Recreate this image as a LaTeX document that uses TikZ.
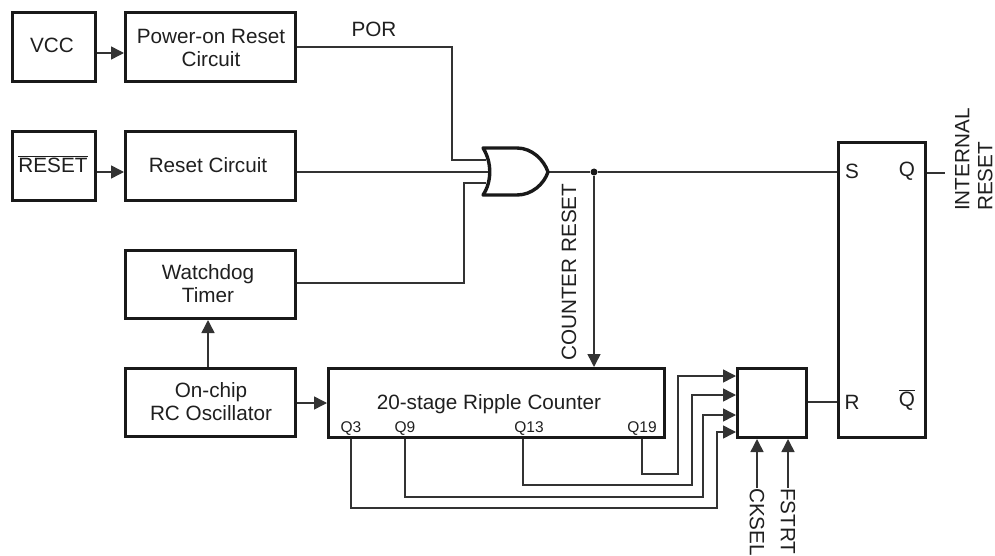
\documentclass[tikz,border=0pt]{standalone}
\usepackage{fontspec}
\setmainfont{Liberation Sans}
\usetikzlibrary{arrows.meta,calc}
\tikzset{
  x=1pt,y=-1pt,
  txt/.style={font=\fontsize{20.7}{23}\selectfont,text=black!88,inner sep=0pt,align=center},
  small/.style={font=\fontsize{15.5}{18}\selectfont,text=black!88,inner sep=0pt},
  box/.style={draw=black!90,line width=3.4pt,inner sep=0pt},
  wire/.style={draw=black!80,line width=1.5pt},
  arr/.style={wire,-{Triangle[length=13pt,width=13pt]}},
  dotn/.style={circle,fill=black!90,inner sep=0pt,minimum size=7pt},
}
\newcommand{\boxat}[5]{\node[box,minimum width=#3 pt-3.4pt,minimum height=#4 pt-3.4pt] (#5) at (#1+#3/2,#2+#4/2) {};}
\begin{document}
\begin{tikzpicture}
\useasboundingbox (0,0) rectangle (995,556);
\boxat{11}{11}{86}{72}{vcc}
\boxat{124}{11}{173}{72}{por}
\boxat{11}{130}{86}{72}{rst}
\boxat{124}{130}{173}{72}{rc}
\boxat{124}{249}{173}{71}{wd}
\boxat{124}{367}{173}{71}{osc}
\boxat{327}{367}{339}{72}{ctr}
\boxat{736}{367}{72}{72}{sel}
\boxat{837}{141}{90}{298}{sr}
% box labels
\node[txt] (vccl) at (52,45) {VCC};
\node[txt] (porc) at (211,48) {Power-on Reset\\Circuit};
\node[txt] (rstl) at (53,164) {$\overline{\mbox{RESET}}$};
\node[txt] (rcl) at (208,165) {Reset Circuit};
\node[txt] (wdl) at (208,284) {Watchdog\\Timer};
\node[txt] (oscl) at (211,402) {On-chip\\RC Oscillator};
\node[txt] (ctrl) at (489,404) {20-stage Ripple Counter};
\node[small] (q3) at (351,429) {Q3};
\node[small] (q9) at (405,429) {Q9};
\node[small] (q13) at (529,429) {Q13};
\node[small] (q19) at (642,429) {Q19};
\node[txt] (s) at (852,171) {S};
\node[txt] (q) at (907,171) {Q};
\node[txt] (r) at (852,402) {R};
\node[txt] (qb) at (907,400) {$\overline{\mbox{Q}}$};
\node[txt] (porl) at (374,29) {POR};
\node[txt,rotate=90,anchor=west] (cr) at (569,361) {COUNTER RESET};
\node[txt,rotate=90,anchor=north west,align=left] (intl) at (955,211) {INTERNAL\\RESET};
\node[txt,rotate=-90,anchor=west] (ck) at (757,488) {CKSEL};
\node[txt,rotate=-90,anchor=west] (fs) at (788,488) {FSTRT};
% gate inputs, junction
\coordinate (g1) at (486,160);
\coordinate (g2) at (488,172);
\coordinate (g3) at (486,183);
\coordinate (gout) at (548,172);
\node[dotn] (j) at (594,172) {};
% connectors
\draw[arr] (vcc.east |- 0,53) -- (por.west |- 0,53);
\draw[arr] (rst.east |- 0,172) -- (rc.west |- 0,172);
\draw[arr] (wd.south -| 208,0) ++(0,47) -- (wd.south -| 208,0);
\draw[arr] (osc.east |- 0,403) -- (ctr.west |- 0,403);
\draw[wire] (por.east |- 0,47) -- (452,47) |- (g1);
\draw[wire] (rc.east |- 0,172) -- (g2);
\draw[wire] (wd.east |- 0,283) -- (464,283) |- (g3);
\draw[wire] (gout) -- (j) -- (sr.west |- j);
\draw[arr] (j) -- (j |- ctr.north);
\draw[wire] (sr.east |- 0,173) -- (945,173);
\draw[wire] (sel.east |- 0,402) -- (sr.west |- 0,402);
\draw[arr] (ctr.south -| q19) -- (642,474) -- (678,474) -- (678,376) -- (sel.west |- 0,376);
\draw[arr] (ctr.south -| 523,0) -- (523,485) -- (692,485) -- (692,395) -- (sel.west |- 0,395);
\draw[arr] (ctr.south -| q9) -- (405,497) -- (703,497) -- (703,415) -- (sel.west |- 0,415);
\draw[arr] (ctr.south -| q3) -- (351,508) -- (717,508) -- (717,432) -- (sel.west |- 0,432);
\draw[arr] (ck.west) -- (ck.west |- sel.south);
\draw[arr] (fs.west) -- (fs.west |- sel.south);
% OR gate
\draw[draw=black!90,line width=3.4pt,line join=round,fill=white]
  (483,148) .. controls (492,162) and (492,182) .. (483,195)
  -- (517,195) .. controls (532,195) and (544,184) .. (548,172)
  .. controls (544,160) and (532,148) .. (517,148) -- cycle;
\end{tikzpicture}
\end{document}
